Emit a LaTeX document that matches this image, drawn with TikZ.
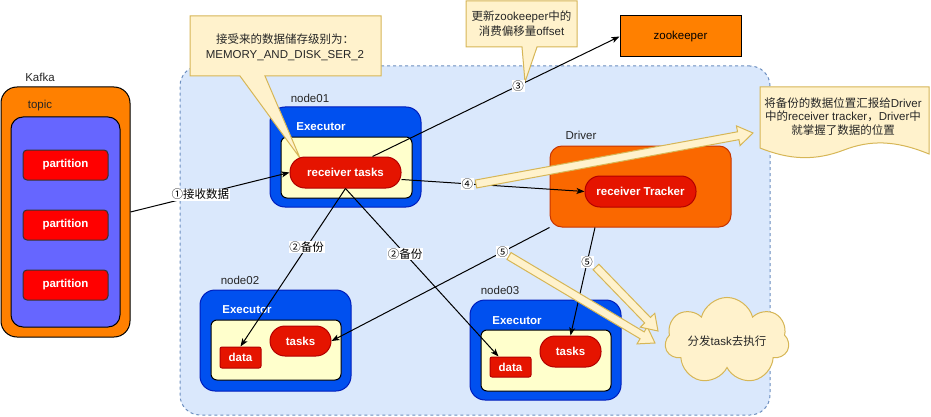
\documentclass[tikz,border=0pt]{standalone}
\usepackage{fontspec}
\setmainfont{Liberation Sans}
\newfontfamily\cjk{Noto Sans CJK SC}
\usetikzlibrary{calc,arrows.meta,shapes.symbols}
\definecolor{contfill}{HTML}{DAE8FC}
\definecolor{contdraw}{HTML}{6C8EBF}
\definecolor{execfill}{HTML}{0050EF}
\definecolor{execdraw}{HTML}{001DBC}
\definecolor{innerfill}{HTML}{FFFFCC}
\definecolor{redfill}{HTML}{E51400}
\definecolor{reddraw}{HTML}{B20000}
\definecolor{drvfill}{HTML}{FA6800}
\definecolor{drvdraw}{HTML}{C73500}
\definecolor{kafkafill}{HTML}{FF8000}
\definecolor{topicfill}{HTML}{6666FF}
\definecolor{partfill}{HTML}{FF0000}
\definecolor{notefill}{HTML}{FFF2CC}
\definecolor{notedraw}{HTML}{D6B656}
\newcommand{\blockarr}[2]{%
  \coordinate (ba-h) at ($(#2)!15pt!(#1)$);
  \draw[barrowstyle] ($(#1)!4pt!90:(#2)$) -- ($(ba-h)!4pt!90:(#2)$) -- ($(ba-h)!10pt!90:(#2)$) -- (#2) -- ($(ba-h)!10pt!-90:(#2)$) -- ($(ba-h)!4pt!-90:(#2)$) -- ($(#1)!4pt!-90:(#2)$) -- cycle;}
\tikzset{
  box/.style={rectangle, inner sep=0pt, line width=1pt},
  execbox/.style={box, fill=execfill, draw=execdraw, rounded corners=15pt, minimum width=151pt, minimum height=100pt},
  innerbox/.style={box, fill=innerfill, draw=black, rounded corners=6pt, minimum width=130pt, minimum height=61pt},
  pill/.style={box, fill=redfill, draw=reddraw, rounded corners=15pt, text=white, font=\fontsize{11.5}{13}\selectfont\bfseries},
  databox/.style={box, fill=redfill, draw=reddraw, rounded corners=2pt, text=white, font=\fontsize{11.5}{13}\selectfont\bfseries, minimum width=41pt, minimum height=21pt},
  partbox/.style={box, fill=partfill, draw=black!80, rounded corners=4pt, text=white, font=\fontsize{11.5}{13}\selectfont\bfseries, minimum width=85pt, minimum height=30pt},
  plain/.style={inner sep=0pt, font=\fontsize{11.5}{13}\selectfont, text=black!85},
  wlabel/.style={inner sep=0pt, font=\fontsize{11.5}{13}\selectfont\bfseries, text=white},
  conn/.style={draw=black, line width=1pt, -{Stealth[length=8pt,width=6pt,inset=2pt]}},
  lbl/.style={fill=white, inner sep=0.6pt, font=\cjk\fontsize{11.5}{12}\selectfont, text=black},
  barrowstyle/.style={fill=notefill, draw=notedraw, line width=1pt, line join=miter},
  callout/.style={fill=notefill, draw=notedraw, line width=1pt},
}
\begin{document}
\begin{tikzpicture}[x=1pt,y=-1pt]
\useasboundingbox (0,0) rectangle (931,417);
% Kafka
\node[plain] (kafkalbl) at (40,77) {Kafka};
\node[box, fill=kafkafill, draw=black, rounded corners=16pt, minimum width=129pt, minimum height=250pt] (kafka) at (65.5,212) {};
\node[plain] (topiclbl) at (40,106) {topic};
\node[box, fill=topicfill, draw=black, rounded corners=12pt, minimum width=109pt, minimum height=210pt] (topic) at (65.5,222) {};
\node[partbox] (p1) at (65.5,165) {partition};
\node[partbox] (p2) at (65.5,225) {partition};
\node[partbox] (p3) at (65.5,285) {partition};
% container
\node[box, fill=contfill, draw=contdraw, dash pattern=on 3pt off 3pt, rounded corners=20pt, minimum width=590pt, minimum height=349pt] (cont) at (475,240.5) {};
% zookeeper
\node[box, fill=kafkafill, draw=black, minimum width=121pt, minimum height=41pt, font=\fontsize{11.5}{13}\selectfont] (zk) at (680.5,36.5) {zookeeper};
% node01
\node[plain] (n1lbl) at (310,98) {node01};
\node[execbox] (ex1) at (345.5,157) {};
\node[wlabel] (ex1lbl) at (321,127) {Executor};
\node[innerbox, minimum width=131pt] (in1) at (346.5,167.5) {};
% callout 1
\draw[callout] (190,16) -- (381,16) -- (381,76) -- (265,76) -- (300,158) -- (240,76) -- (190,76) -- cycle;
\node[plain, align=center, font=\fontsize{11.5}{15}\selectfont] (c1txt) at (285,47) {{\cjk 接受来的数据储存级别为：}\\MEMORY\_AND\_DISK\_SER\_2};
\node[pill, minimum width=111pt, minimum height=31pt] (rt) at (345.5,172.5) {receiver tasks};
% Driver
\node[plain] (drvlbl) at (581,135) {Driver};
\node[box, fill=drvfill, draw=drvdraw, rounded corners=12pt, minimum width=181pt, minimum height=81pt] (drv) at (640.5,186.5) {};
\node[pill, minimum width=111pt, minimum height=31pt] (rtk) at (640.5,191.5) {receiver Tracker};
% node02
\node[plain] (n2lbl) at (240,280) {node02};
\node[execbox, minimum height=101pt] (ex2) at (275.5,340.5) {};
\node[wlabel] (ex2lbl) at (247,310) {Executor};
\node[innerbox, minimum height=60pt] (in2) at (276,350) {};
\node[pill, minimum width=61pt, minimum height=30pt] (t2) at (300.5,341) {tasks};
\node[databox] (d2) at (240.5,357.5) {data};
% node03
\node[plain] (n3lbl) at (500,290) {node03};
\node[execbox] (ex3) at (545.5,350) {};
\node[wlabel] (ex3lbl) at (517,321) {Executor};
\node[innerbox] (in3) at (546,360.5) {};
\node[pill, minimum width=61pt, minimum height=31pt] (t3) at (570.5,351.5) {tasks};
\node[databox, minimum height=20pt] (d3) at (510.5,367) {data};
% callout 2
\draw[callout] (466,1) -- (577,1) -- (577,47) -- (537,47) -- (525,82) -- (522,47) -- (466,47) -- cycle;
\node[plain, align=center, font=\fontsize{11.5}{15}\selectfont] (c2txt) at (521.5,24) {{\cjk 更新}zookeeper{\cjk 中的}\\{\cjk 消费偏移量}offset};
% document note
\draw[callout] (760,87) -- (929,87) -- (929,154) .. controls (895,140) and (870,140) .. (844,150) .. controls (815,161) and (790,160) .. (760,148) -- cycle;
\node[plain, align=center, font=\fontsize{11.5}{13.5}\selectfont] (doctxt) at (843,116.5) {{\cjk 将备份的数据位置汇报给}Driver\\{\cjk 中的}receiver tracker{\cjk ，}Driver{\cjk 中}\\{\cjk 就掌握了数据的位置}};
% cloud
\node[cloud, cloud puffs=7, cloud puff arc=150, aspect=2, fill=notefill, draw=notedraw, line width=1pt, minimum width=124pt, minimum height=62pt, inner sep=0pt, font=\fontsize{11.5}{13}\selectfont, text=black!85] (cloud) at (727,341) {{\cjk 分发}task{\cjk 去执行}};
% connectors
\draw[conn] (kafka.east) -- node[lbl, pos=0.44] (l1) {①接收数据} (rt.west);
\draw[conn] (rt.south) -- node[lbl, pos=0.37] (l2a) {②备份} (d2.north);
\draw[conn] (rt.south) -- node[lbl, pos=0.39] (l2b) {②备份} ($(d3.north)+(-12,0)$);
\draw[conn] ($(rt.north)+(27,0)$) -- node[lbl, pos=0.59] (l3) {③} (zk.west);
\draw[conn] ($(rt.east)+(0,7)$) -- node[lbl, pos=0.36] (l4) {④} (rtk.west);
\draw[conn] (drv.south west) -- node[lbl, pos=0.215] (l5a) {⑤} (t2.east);
\draw[conn] ($(drv.south)+(-45.5,0)$) -- node[lbl, pos=0.32] (l5b) {⑤} (t3.north);
% block arrows
\coordinate (ba4s) at (476,184);
\coordinate (ba4e) at (753,133);
\coordinate (ba5as) at (509,256);
\coordinate (ba5ae) at (655,343);
\coordinate (ba5bs) at (596,267);
\coordinate (ba5be) at (658,331);
\blockarr{ba4s}{ba4e}
\blockarr{ba5as}{ba5ae}
\blockarr{ba5bs}{ba5be}
\end{tikzpicture}
\end{document}
